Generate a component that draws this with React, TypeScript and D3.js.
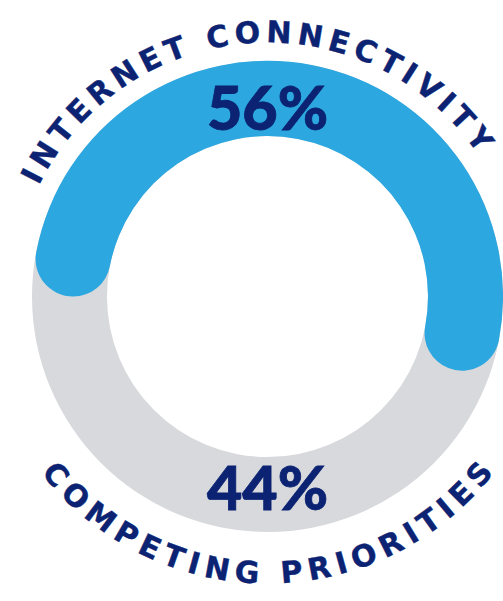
import * as d3 from 'd3';

// ── Data ──────────────────────────────────────────────────────────────────────
const LABELS = ['INTERNET CONNECTIVITY', 'COMPETING PRIORITIES'];
const VALUES = [56, 44];
const COLORS = ['#2ca7df', '#d8d9dc'];

// ── Layout ────────────────────────────────────────────────────────────────────
const VW = 503;
const VH = 601;
const CX = 267.5;
const CY = 296.5;
const R_OUT = 235.5;
const R_IN = 160.5;
const R_LABEL = 190;
const R_TEXT_TOP = 254;
const R_TEXT_BOTTOM = 287;

const NAVY = '#0b2372';
const PCT_FONT = 'Lato, "Open Sans", sans-serif';
const ARC_FONT = '"DejaVu Sans", Lato, sans-serif';

export default function App() {
  const total = d3.sum(VALUES);
  const pie = d3.pie<number>().sort(null).value(d => d).startAngle(-Math.PI / 2).endAngle(1.5 * Math.PI);
  const slices = pie(VALUES);

  const track = d3.arc<any>().innerRadius(R_IN).outerRadius(R_OUT)({
    startAngle: 0, endAngle: 2 * Math.PI,
  } as any) ?? '';
  const arcGen = d3.arc<d3.PieArcDatum<number>>()
    .innerRadius(R_IN)
    .outerRadius(R_OUT)
    .cornerRadius((R_OUT - R_IN) / 2);

  // text paths: top runs clockwise over the top, bottom runs counter-clockwise under
  const topPath = `M ${-R_TEXT_TOP},0 A ${R_TEXT_TOP},${R_TEXT_TOP} 0 0 1 ${R_TEXT_TOP},0`;
  const botPath = `M ${-R_TEXT_BOTTOM},0 A ${R_TEXT_BOTTOM},${R_TEXT_BOTTOM} 0 0 0 ${R_TEXT_BOTTOM},0`;

  const pct = (v: number) => `${Math.round((v / total) * 100)}%`;

  return (
    <svg
      width={VW}
      height={VH}
      viewBox={`0 0 ${VW} ${VH}`}
      style={{ position: 'fixed', left: 0, top: 0, display: 'block', background: '#fff' }}
    >
      <defs>
        <path id="topArc" d={topPath} />
        <path id="botArc" d={botPath} />
      </defs>
      <g transform={`translate(${CX},${CY})`}>
        <path d={track} fill={COLORS[1]} />
        <path d={arcGen(slices[0]) ?? ''} fill={COLORS[0]} />

        {/* percentage labels */}
        <text
          x={0} y={-R_LABEL}
          textAnchor="middle" dominantBaseline="central"
          fontFamily={PCT_FONT} fontWeight={900} fontSize={61} fill={NAVY}
          stroke={NAVY} strokeWidth={0.8}
        >
          {pct(VALUES[0])}
        </text>
        <text
          x={0} y={R_LABEL}
          textAnchor="middle" dominantBaseline="central"
          fontFamily={PCT_FONT} fontWeight={900} fontSize={61} fill={NAVY}
          stroke={NAVY} strokeWidth={0.8}
        >
          {pct(VALUES[1])}
        </text>

        {/* curved category labels */}
        <text fontFamily={ARC_FONT} fontWeight={700} fontSize={30} fill={NAVY} stroke={NAVY} strokeWidth={0.4}>
          <textPath
            href="#topArc"
            startOffset="47.7%"
            textAnchor="middle"
            textLength={532}
            lengthAdjust="spacing"
          >
            {LABELS[0]}
          </textPath>
        </text>
        <text fontFamily={ARC_FONT} fontWeight={700} fontSize={30} fill={NAVY} stroke={NAVY} strokeWidth={0.4}>
          <textPath
            href="#botArc"
            startOffset="50%"
            textAnchor="middle"
            textLength={522}
            lengthAdjust="spacing"
          >
            {LABELS[1]}
          </textPath>
        </text>
      </g>
    </svg>
  );
}
